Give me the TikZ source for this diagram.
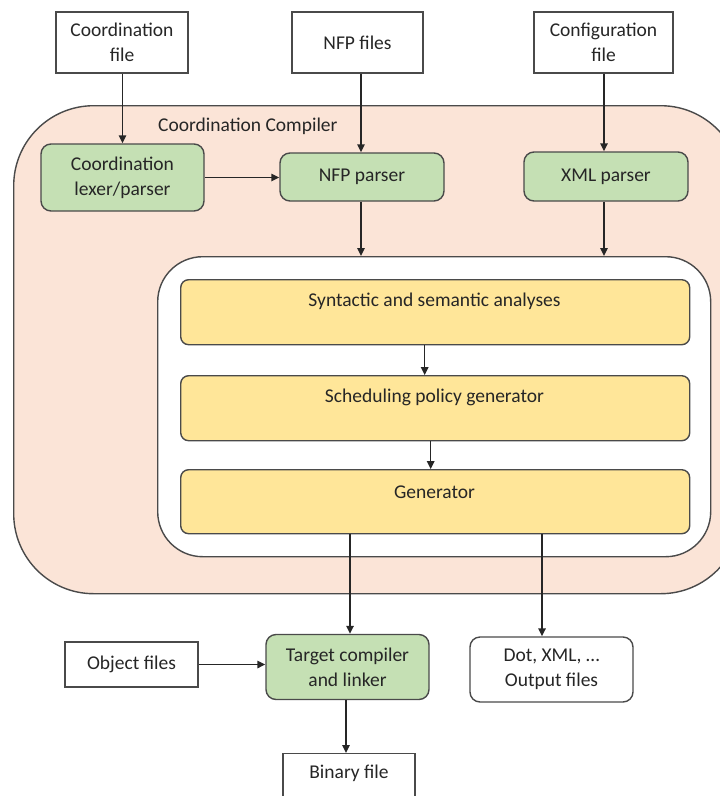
\documentclass[tikz,border=0pt]{standalone}
\usepackage{fontspec}
\setmainfont{Carlito}
\usetikzlibrary{arrows.meta,calc}
\definecolor{pinkfill}{HTML}{FBE4D7}
\definecolor{greenfill}{HTML}{C5E0B4}
\definecolor{yellowfill}{HTML}{FFE699}
\definecolor{edge}{HTML}{4A4A4A}
\definecolor{txt}{HTML}{262626}
\tikzset{
  every node/.style={font=\fontsize{19.5}{25}\selectfont, text=txt, align=center, inner sep=0pt},
  filebox/.style={draw=edge, line width=1.4pt, fill=white},
  greenbox/.style={draw=edge, line width=1.4pt, fill=greenfill, rounded corners=10pt},
  yellowbox/.style={draw=edge, line width=1.4pt, fill=yellowfill, rounded corners=8pt, minimum width=509pt, minimum height=65pt},
  outbox/.style={draw=edge, line width=1.4pt, fill=white, rounded corners=10pt},
  arr/.style={draw=black!85, line width=1.5pt, -{Triangle[length=8pt,width=7.5pt]}},
}
\begin{document}
\begin{tikzpicture}[x=1pt,y=-1pt]
\useasboundingbox (0,0) rectangle (720,796);
\clip (0,0) rectangle (720,796);

% outer compiler region
\node[draw=edge, line width=1.4pt, fill=pinkfill, rounded corners=80pt, minimum width=727pt, minimum height=488pt, anchor=north west] (comp) at (13,105) {};
\node[anchor=west] (complabel) at (158,126) {Coordination Compiler};

% inner white region
\node[draw=edge, line width=1.4pt, fill=white, rounded corners=45pt, minimum width=553pt, minimum height=300pt, anchor=north west] (inner) at (157,256) {};

% input files
\node[filebox, minimum width=132pt, minimum height=61pt] (cf) at (122,42.5) {Coordination\\file};
\node[filebox, minimum width=131pt, minimum height=61pt] (nfpf) at (357.5,42.5) {NFP files};
\node[filebox, minimum width=139pt, minimum height=61pt] (conf) at (603.5,42.5) {Configuration\\file};

% parsers
\node[greenbox, minimum width=163pt, minimum height=67pt] (lex) at (122.5,177.5) {Coordination\\lexer/parser};
\node[greenbox, minimum width=164pt, minimum height=48pt] (nfpp) at (362,177) {NFP parser};
\node[greenbox, minimum width=164pt, minimum height=49pt] (xml) at (606,176.5) {XML parser};

% stages
\node[yellowbox, anchor=north west] (y1) at (180,279) {};
\node (y1t) at (434.5,301) {Syntactic and semantic analyses};
\node[yellowbox, anchor=north west] (y2) at (180,375) {};
\node (y2t) at (434.5,397) {Scheduling policy generator};
\node[yellowbox, minimum height=64pt, anchor=north west] (y3) at (180,469) {};
\node (y3t) at (434.5,492) {Generator};

% bottom
\node[filebox, minimum width=133pt, minimum height=45pt] (obj) at (131.5,664.5) {Object files};
\node[greenbox, minimum width=163pt, minimum height=65pt] (tgt) at (347.5,667) {Target compiler\\and linker};
\node[outbox, minimum width=163pt, minimum height=65pt] (dot) at (551.5,669.5) {Dot, XML, …\\Output files};
\node[filebox, minimum width=132pt, minimum height=50pt, anchor=north] (bin) at (349,753) {};
\node (bint) at (349,773) {Binary file};

% connectors
\draw[arr] (cf.south -| lex.north) -- (lex.north);
\draw[arr] ([xshift=-1pt]nfpp.north |- nfpf.south) -- ([xshift=-1pt]nfpp.north);
\draw[arr] ([xshift=-2pt]xml.north |- conf.south) -- ([xshift=-2pt]xml.north);
\draw[arr] (lex.east) -- (nfpp.west |- lex.east);
\draw[arr] ([xshift=-1pt]nfpp.south) -- ([xshift=-1pt]nfpp.south |- inner.north);
\draw[arr] ([xshift=-2pt]xml.south) -- ([xshift=-2pt]xml.south |- inner.north);
\draw[arr] ([xshift=-10.5pt]y1.south) -- ([xshift=-10.5pt]y2.north);
\draw[arr] ([xshift=-4.5pt]y2.south) -- ([xshift=-4.5pt]y3.north);
\draw[arr] ([xshift=2.5pt]tgt.north |- y3.south) -- ([xshift=2.5pt]tgt.north);
\draw[arr] ([xshift=-9.5pt]dot.north |- y3.south) -- ([xshift=-9.5pt]dot.north);
\draw[arr] (obj.east) -- (tgt.west |- obj.east);
\draw[arr] ([xshift=-1.5pt]tgt.south) -- ([xshift=-1.5pt]tgt.south |- bin.north);
\end{tikzpicture}
\end{document}
